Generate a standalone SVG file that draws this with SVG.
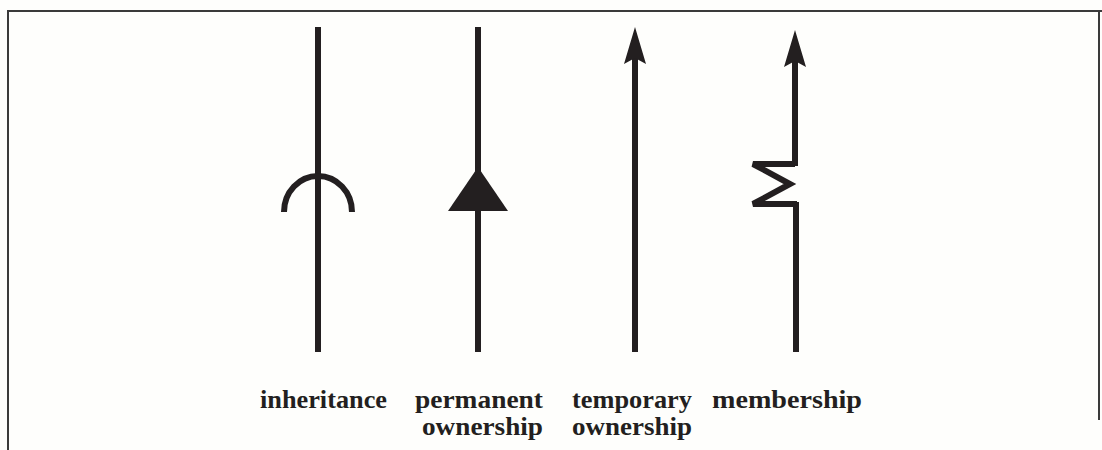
<svg xmlns="http://www.w3.org/2000/svg" width="1102" height="450" viewBox="0 0 1102 450">
<style>
.ln{stroke:#231f20;stroke-width:6;fill:none}
.fl{fill:#231f20}
.lb{font-family:"Liberation Serif",serif;font-weight:bold;font-size:26px;fill:#231f20}
.bd{stroke:#3a3a3a;stroke-width:2;fill:none}
</style>
<rect width="1102" height="450" fill="#fefefc"/>
<g id="frame">
<path class="bd" d="M8 450 V11 H1102"/>
<path class="bd" d="M1099 11 V420"/>
</g>
<g id="connectors">
<g id="inheritance">
<line class="ln" x1="318" y1="27" x2="318" y2="352"/>
<path class="ln" d="M284 212 A34 36 0 0 1 352 212"/>
</g>
<g id="permanent">
<line class="ln" x1="478" y1="27" x2="478" y2="352"/>
<polygon class="fl" points="478,167 508,211 448,211"/>
</g>
<g id="temporary">
<line class="ln" x1="635" y1="55" x2="635" y2="352"/>
<polygon class="fl" points="635,27 646,64 635,58 624,64"/>
</g>
<g id="membership">
<line class="ln" x1="795" y1="58" x2="795" y2="166"/>
<polyline class="ln" points="795,164 753,164 790,184 753,204 797,204"/>
<line class="ln" x1="796" y1="202" x2="796" y2="352"/>
<polygon class="fl" points="795,30 806,67 795,61 784,67"/>
</g>
</g>
<g id="labels">
<text class="lb" x="260" y="408" textLength="127" lengthAdjust="spacingAndGlyphs">inheritance</text>
<text class="lb" x="415" y="408" textLength="128" lengthAdjust="spacingAndGlyphs">permanent</text>
<text class="lb" x="422" y="435" textLength="121" lengthAdjust="spacingAndGlyphs">ownership</text>
<text class="lb" x="572" y="408" textLength="120" lengthAdjust="spacingAndGlyphs">temporary</text>
<text class="lb" x="572" y="435" textLength="120" lengthAdjust="spacingAndGlyphs">ownership</text>
<text class="lb" x="712" y="408" textLength="150" lengthAdjust="spacingAndGlyphs">membership</text>
</g>
</svg>
